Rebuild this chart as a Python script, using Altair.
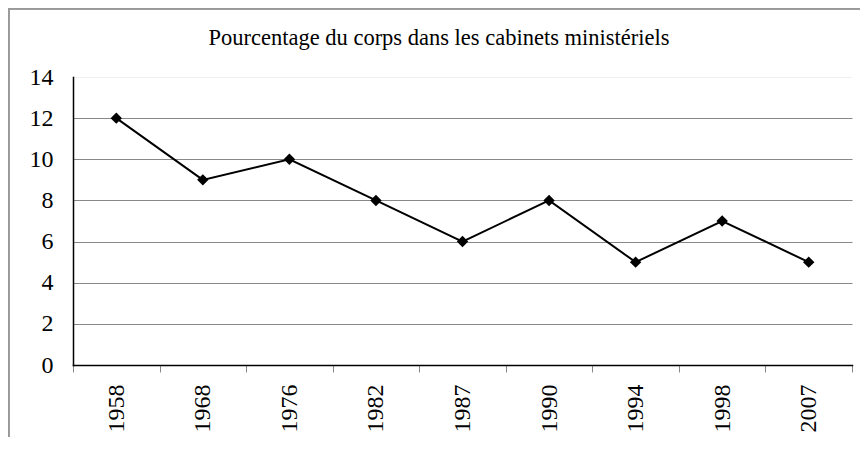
import altair as alt
import pandas as pd

years = ["1958", "1968", "1976", "1982", "1987", "1990", "1994", "1998", "2007"]
values = [12, 9, 10, 8, 6, 8, 5, 7, 5]
title_text = "Pourcentage du corps dans les cabinets ministériels"

df = pd.DataFrame({"annee": years, "pct": values})
FONT = "'Times New Roman', 'Liberation Serif', serif"

x_enc = alt.X("annee:N", sort=years, title=None,
              scale=alt.Scale(paddingInner=0, paddingOuter=0),
              axis=alt.Axis(labelAngle=-90, labelFont=FONT, labelFontSize=24,
                            labelColor="black", tickBand="extent", tickSize=7,
                            tickColor="#888888", domainColor="black", domainWidth=1.5,
                            labelPadding=12, grid=False))
y_enc = alt.Y("pct:Q", title=None,
              scale=alt.Scale(domain=[0, 14], nice=False),
              axis=alt.Axis(values=[0, 2, 4, 6, 8, 10, 12, 14], labelFont=FONT,
                            labelFontSize=24, labelColor="black", ticks=False,
                            labelPadding=20, domainColor="black", domainWidth=1.5,
                            gridColor=alt.condition("datum.value == 14", alt.value("#f0f0f0"), alt.value("#888888")),
                            gridWidth=1))

base = alt.Chart(df)
line = base.mark_line(color="black", strokeWidth=2).encode(x=x_enc, y=y_enc)
pts = base.mark_point(shape="diamond", filled=True, color="black", size=130, opacity=1).encode(x="annee:N", y="pct:Q")

title = alt.Chart(pd.DataFrame({"t": [title_text]})).mark_text(
    font=FONT, fontSize=22.5, color="black", align="center", baseline="alphabetic"
).encode(text="t:N", x=alt.value(366), y=alt.value(-32))

frame_top = alt.Chart(df).mark_rule(color="#999999", strokeWidth=1.5).encode(
    x=alt.value(-64), x2=alt.value(900), y=alt.value(-68.5))
frame_left = alt.Chart(df).mark_rule(color="#999999", strokeWidth=1.5).encode(
    x=alt.value(-64.5), y=alt.value(-69), y2=alt.value(400))

chart = alt.layer(line, pts, title, frame_top, frame_left).properties(
    width=779, height=288,
    autosize=alt.AutoSizeParams(type="none"),
    padding={"left": 65, "top": 69, "right": 8, "bottom": 72},
).configure_view(stroke=None).configure_axis(domainCap="square")

chart.save("out.html", embed_options={"renderer": "svg", "actions": False})
